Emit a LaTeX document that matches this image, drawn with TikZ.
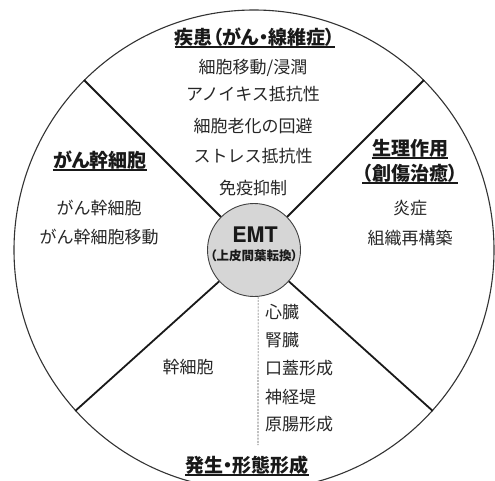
\documentclass[tikz,border=0pt]{standalone}
\usepackage{fontspec}
\setmainfont{Noto Sans CJK JP}
\newfontfamily\ttlfont{Noto Sans CJK JP}[RawFeature=+palt]
\newfontfamily\emtfont{TeX Gyre Heros}
\tikzset{
  body/.style={font=\fontsize{17}{20}\selectfont, inner sep=0pt, text=black!85},
  ttl/.style={font=\ttlfont\bfseries\fontsize{19}{22}\selectfont, inner sep=0pt, text=black!90},
  uline/.style={line width=1.3pt, black!90},
  spoke/.style={line width=1.8pt, black!90},
  rim/.style={line width=1.1pt, black!80},
  hub/.style={circle, draw=black!75, line width=0.9pt, fill=black!16, minimum size=93pt, inner sep=0pt},
  dots/.style={dashed, dash pattern=on 2pt off 1.2pt, line width=0.6pt, black!70}
}
\begin{document}
\begin{tikzpicture}[x=1pt,y=-1pt]
\useasboundingbox (0,0) rectangle (495,480);
\clip (0,0) rectangle (495,480);
% outer ring and hub
\node[circle, rim, draw, minimum size=480pt, inner sep=0pt] (outer) at (254,250) {};
\node[hub] (emt) at (254,250) {};
% spokes
\draw[spoke] (emt.45) -- (outer.45);
\draw[spoke] (emt.135) -- (outer.135);
\draw[spoke] (emt.222) -- (outer.222);
\draw[spoke] (emt.318) -- (outer.318);
% dashed divider
\coordinate (dend) at (258,445);
\draw[dots] (emt.-85) -- (dend);
% hub text
\node[font=\emtfont\bfseries\fontsize{21.5}{24}\selectfont, inner sep=0pt, text=black!90] (emtA) at (255,234.5) {EMT};
\node[font=\ttlfont\bfseries\fontsize{12.5}{14}\selectfont, inner sep=0pt, text=black!90] (emtB) at (254,256) {（上皮間葉転換）};
% top sector
\node[ttl] (t1) at (255,37) {疾患（がん・線維症）};
\draw[uline] ([yshift=-0.6pt]t1.south west) -- ([yshift=-0.6pt]t1.south east);
\node[body] (a1) at (253,68) {細胞移動/浸潤};
\node[body] (a2) at (253,94) {アノイキス抵抗性};
\node[body] (a3) at (253,126) {細胞老化の回避};
\node[body] (a4) at (253,156) {ストレス抵抗性};
\node[body] (a5) at (253,188) {免疫抑制};
% right sector
\node[ttl] (t2) at (410,148) {生理作用};
\draw[uline] ([yshift=-0.6pt]t2.south west) -- ([yshift=-0.6pt]t2.south east);
\node[ttl] (t3) at (410,173) {（創傷治癒）};
\draw[uline] ([yshift=-0.6pt]t3.south west) -- ([yshift=-0.6pt]t3.south east);
\node[body] (b1) at (410,208) {炎症};
\node[body] (b2) at (410,238) {組織再構築};
% left sector
\node[ttl] (t4) at (100,160) {がん幹細胞};
\draw[uline] ([yshift=-0.6pt]t4.south west) -- ([yshift=-0.6pt]t4.south east);
\node[body] (c1) at (99,208) {がん幹細胞};
\node[body] (c2) at (99,237) {がん幹細胞移動};
% bottom sector
\node[body] (d0) at (188,367) {幹細胞};
\node[body, anchor=west] (d1) at (265,312) {心臓};
\node[body, anchor=west] (d2) at (265,340) {腎臓};
\node[body, anchor=west] (d3) at (265,368) {口蓋形成};
\node[body, anchor=west] (d4) at (265,397) {神経堤};
\node[body, anchor=west] (d5) at (265,424) {原腸形成};
\node[ttl] (t5) at (247,465) {発生・形態形成};
\draw[uline] ([yshift=-0.6pt]t5.south west) -- ([yshift=-0.6pt]t5.south east);
\end{tikzpicture}
\end{document}
